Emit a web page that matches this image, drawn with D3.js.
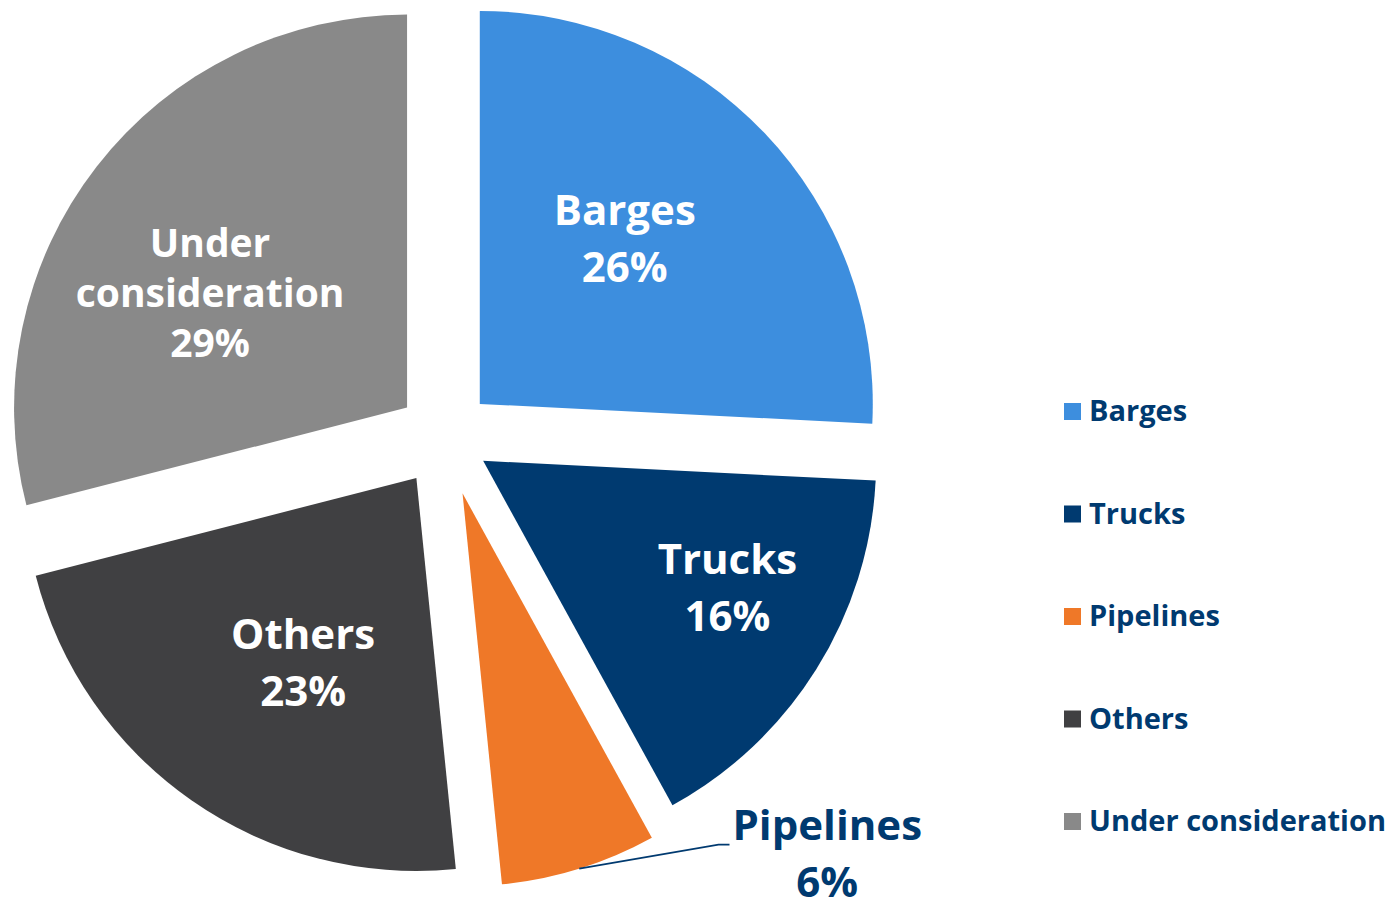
<!DOCTYPE html>
<html>
<head>
<meta charset="utf-8">
<script src="https://cdn.jsdelivr.net/npm/d3@7"></script>
<style>
  body { margin: 0; background: #fff; }
  svg { display: block; font-family: "Open Sans", Lato, sans-serif; font-weight: bold; font-variant-ligatures: none; }
</style>
</head>
<body>
<div id="chart"></div>
<script>
// shares (percent)
const categories = ["Barges", "Trucks", "Pipelines", "Others", "Under consideration"];
const shares = [25.8, 16.2, 6.4, 22.6, 29];
const colors = ["#3d8ede", "#003a70", "#ef7828", "#404042", "#898989"];
// label text inside the slices (line breaks)
const sliceLabels = [["Barges"], ["Trucks"], ["Pipelines"], ["Others"], ["Under", "consideration"]];

const W = 1396, H = 902;
const cx = 445, cy = 437, R = 393;
const navy = "#003a70";

// how far each slice is pulled out from the centre
const explode = [48, 45, 59, 50, 48];
// label placement: distance (fraction of R) and angle (deg) from slice tip, null = outside
const labelR = [0.56, 0.70, null, 0.55, 0.58];
const labelAng = [41.2, 117.4, null, 211.6, 300.2];
const labelSize = [42, 42, 42, 42, 39];
const labelLine = [57, 57, 57, 57, 50];

const svg = d3.select("#chart").append("svg")
  .attr("width", W).attr("height", H);

const pie = d3.pie().sort(null).value(d => d.v);
const arcs = pie(categories.map((c, i) => ({ name: c, v: shares[i], i: i })));
const arc = d3.arc().innerRadius(0).outerRadius(R);

function polar(r, a) { return [r * Math.sin(a), -r * Math.cos(a)]; }

arcs.forEach(a => {
  let mid = (a.startAngle + a.endAngle) / 2;
  let off = polar(explode[a.index], mid);
  a.tip = [cx + off[0], cy + off[1]];
});

svg.append("g").selectAll("path")
  .data(arcs)
  .enter().append("path")
  .attr("transform", d => `translate(${d.tip[0]},${d.tip[1]})`)
  .attr("d", arc)
  .attr("fill", (d, i) => colors[i]);

function pct(v) { return Math.round(v) + "%"; }

// text block centred at (x, y), first line cap top to last baseline
function textBlock(lines, x, y, fs, lh, fill) {
  let cap = fs * 0.714;
  let h = cap + (lines.length - 1) * lh;
  let b0 = y - h / 2 + cap;
  let t = svg.append("text")
    .attr("text-anchor", "middle")
    .attr("fill", fill)
    .style("font-size", fs + "px");
  lines.forEach((l, k) => {
    t.append("tspan").attr("x", x).attr("y", b0 + k * lh).text(l);
  });
  return t;
}

arcs.forEach(a => {
  let i = a.index;
  if (labelR[i] == null) return;
  let p = polar(labelR[i] * R, labelAng[i] * Math.PI / 180);
  textBlock(sliceLabels[i].concat([pct(shares[i])]),
    a.tip[0] + p[0], a.tip[1] + p[1], labelSize[i], labelLine[i], "#fff");
});

// outside label for the small slice, with leader line
arcs.filter(a => labelR[a.index] == null).forEach(a => {
  let i = a.index;
  let mid = (a.startAngle + a.endAngle) / 2;
  let edge = polar(R, mid);
  let start = [a.tip[0] + edge[0], a.tip[1] + edge[1]];
  let lx = start[0] + 248, ly = start[1] - 15;
  let t = textBlock(sliceLabels[i].concat([pct(shares[i])]), lx, ly, labelSize[i], labelLine[i], navy);
  let first = t.select("tspan").node().getBBox();
  let lineY = start[1] - 24;
  svg.append("path")
    .attr("d", d3.line()([start, [first.x - 14, lineY], [first.x - 3, lineY]]))
    .attr("fill", "none")
    .attr("stroke", navy)
    .attr("stroke-width", 1.6);
});

// legend
const ly = d3.scalePoint().domain(categories).range([411.5, 821.5]);
const legend = svg.append("g").selectAll("g")
  .data(categories)
  .enter().append("g")
  .attr("transform", d => `translate(1064,${ly(d)})`);

legend.append("rect")
  .attr("x", 0).attr("y", -8.5)
  .attr("width", 17).attr("height", 17)
  .attr("fill", (d, i) => colors[i]);

legend.append("text")
  .attr("x", 25).attr("y", 9.5)
  .attr("fill", navy)
  .style("font-size", "29px")
  .text(d => d);
</script>
</body>
</html>
